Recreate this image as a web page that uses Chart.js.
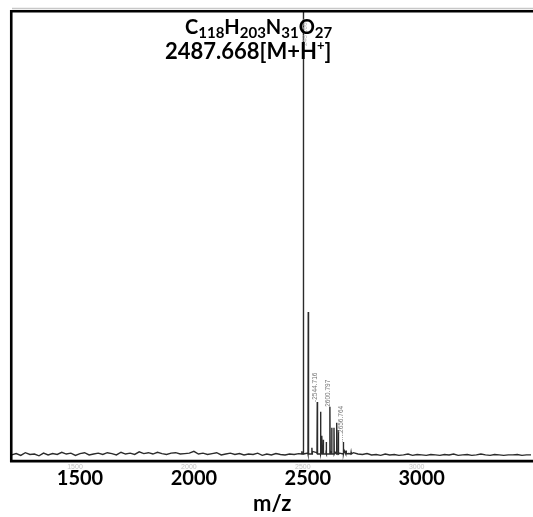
<!DOCTYPE html>
<html>
<head>
<meta charset="utf-8">
<script src="https://cdn.jsdelivr.net/npm/chart.js@4.4.1/dist/chart.umd.min.js"></script>
<style>
  html, body { margin: 0; padding: 0; background: #fff; }
  #wrap { width: 533px; height: 517px; }
</style>
</head>
<body>
<div id="wrap"><canvas id="ms" width="533" height="517"></canvas></div>
<script>
// axis
const tickValues = [1500, 2000, 2500, 3000];
const xMin = 1198.2, xMax = 3488.6;

// baseline noise, one reading every 20 m/z from 1200
const noiseStart = 1200, noiseStep = 20;
const noiseLevels = [
  0.4, 0.7, 0.3, 0.9, 0.5, 0.6, 0.2, 0.8, 0.4, 0.7,
  0.5, 1.0, 0.6, 0.8, 0.3, 0.7, 0.9, 0.4, 0.6, 0.8,
  0.5, 0.9, 0.7, 0.4, 1.0, 0.6, 0.8, 0.5, 1.1, 0.7,
  0.9, 0.6, 1.0, 0.7, 0.5, 0.8, 0.9, 0.6, 0.7, 0.8,
  1.2, 0.6, 0.8, 0.5, 0.7, 0.9, 0.4, 0.6, 0.8, 0.5,
  0.7, 0.4, 0.6, 0.5, 0.8, 0.3, 0.6, 0.4, 0.7, 0.5,
  0.4, 0.6, 0.5, 0.7, 1.0, 0.8, 1.2, 0.9, 1.3, 0.8,
  1.1, 1.0, 0.8, 1.4, 0.7, 0.9, 0.6, 0.5, 0.7, 0.4,
  0.5, 0.3, 0.6, 0.4, 0.5, 0.3, 0.4, 0.6, 0.3, 0.5,
  0.4, 0.3, 0.5, 0.4, 0.3, 0.5, 0.4, 0.6, 0.3, 0.4,
  0.5, 0.3, 0.4, 0.6, 0.4, 0.3, 0.5, 0.4, 0.3, 0.4,
  0.4, 0.5, 0.3, 0.4, 0.4
];

// peaks (m/z, relative intensity)
const peakMz        = [2474, 2481, 2502, 2518, 2541.5, 2556, 2562, 2568, 2581, 2597, 2605, 2615, 2627, 2634, 2656, 2668, 2690];
const peakIntensity = [1.2,  101,  32.5, 2.0,  12.3,   10.1, 4.7,  3.8,  3.3,  11.2, 6.5,  6.5,  7.6,  6.0,  3.3,  1.4,  1.0];

// peak annotations
const labelMz   = [2541.5, 2597, 2656];
const labelText = ['-2544.716', '2600.797', '.....2656.764'];
const mainLabel = '2487.668';

// formula text
const formulaParts = [['C', '118'], ['H', '203'], ['N', '31'], ['O', '27']];
const ionText = '2487.668[M+H';

const spectrum = [];
noiseLevels.forEach((v, i) => spectrum.push({ x: noiseStart + i * noiseStep, y: v }));
peakMz.forEach((m, i) => {
  spectrum.push({ x: m - 1.2, y: 0.6 }, { x: m, y: peakIntensity[i] }, { x: m + 1.2, y: 0.6 });
});
spectrum.sort((a, b) => a.x - b.x);

const framePlugin = {
  id: 'frame',
  afterDatasetsDraw(chart) {
    const ctx = chart.ctx;
    const a = chart.chartArea;
    const xs = chart.scales.x, ys = chart.scales.y;
    ctx.save();

    // faint original tick labels
    ctx.fillStyle = '#c4c4c4';
    ctx.font = '7px "Liberation Sans"';
    ctx.textAlign = 'center';
    ctx.textBaseline = 'middle';
    tickValues.forEach(v => ctx.fillText(String(v), xs.getPixelForValue(v) - 5, 467.5));

    // rotated peak labels
    ctx.font = '6.5px "Liberation Sans"';
    ctx.fillStyle = '#777';
    ctx.textAlign = 'left';
    labelMz.forEach((m, i) => {
      const k = peakMz.indexOf(m);
      const px = xs.getPixelForValue(m) - 1.8;
      const py = ys.getPixelForValue(peakIntensity[k]);
      ctx.save();
      ctx.translate(px, py);
      ctx.rotate(-Math.PI / 2);
      ctx.fillText(labelText[i], 0, 0);
      ctx.restore();
    });
    ctx.fillStyle = '#b8b8b8';
    ctx.save();
    ctx.translate(xs.getPixelForValue(2481) + 1.5, 46);
    ctx.rotate(-Math.PI / 2);
    ctx.fillText(mainLabel, 0, 0);
    ctx.restore();

    // frame
    ctx.strokeStyle = '#c8c8c8';
    ctx.lineWidth = 1.5;
    ctx.beginPath();
    ctx.moveTo(12, 8.6); ctx.lineTo(533, 8.6);
    ctx.stroke();
    ctx.strokeStyle = '#000';
    ctx.lineWidth = 2.6;
    ctx.beginPath();
    ctx.moveTo(533, a.top); ctx.lineTo(a.left, a.top);
    ctx.lineTo(a.left, a.bottom); ctx.lineTo(533, a.bottom);
    ctx.stroke();

    // formula
    ctx.fillStyle = '#000';
    ctx.textAlign = 'left';
    ctx.textBaseline = 'alphabetic';
    let x = 185;
    formulaParts.forEach(p => {
      ctx.font = 'bold 20px Lato';
      ctx.fillText(p[0], x, 34);
      x += ctx.measureText(p[0]).width;
      ctx.font = 'bold 15px Lato';
      ctx.fillText(p[1], x, 38);
      x += ctx.measureText(p[1]).width;
    });
    x = 165;
    ctx.font = 'bold 22px Lato';
    ctx.fillText(ionText, x, 59);
    x += ctx.measureText(ionText).width;
    ctx.font = 'bold 13px Lato';
    ctx.fillText('+', x, 50);
    x += ctx.measureText('+').width;
    ctx.font = 'bold 22px Lato';
    ctx.fillText(']', x, 59);
    ctx.restore();
  }
};

new Chart(document.getElementById('ms'), {
  type: 'line',
  data: {
    datasets: [{
      data: spectrum,
      borderColor: '#2b2b2b',
      borderWidth: 1.4,
      pointRadius: 0,
      tension: 0,
      fill: false
    }]
  },
  options: {
    responsive: false,
    animation: false,
    devicePixelRatio: 1,
    layout: { padding: { left: 11.25, top: 11.25, right: 0, bottom: 4.46 } },
    plugins: { legend: { display: false }, tooltip: { enabled: false } },
    scales: {
      x: {
        type: 'linear',
        min: xMin,
        max: xMax,
        grid: { display: false, drawTicks: false },
        border: { display: false },
        afterBuildTicks: s => { s.ticks = tickValues.map(v => ({ value: v })); },
        ticks: {
          padding: 5.55,
          color: '#000',
          maxRotation: 0,
          autoSkip: false,
          callback: v => String(v),
          font: { family: 'Lato', weight: 'bold', size: 20, lineHeight: 1.2 }
        },
        title: {
          display: true,
          text: 'm/z',
          color: '#000',
          font: { family: 'Lato', weight: 'bold', size: 22, lineHeight: 0.74 },
          padding: { top: 0, bottom: 0 }
        }
      },
      y: { display: false, min: -1, max: 100 }
    }
  },
  plugins: [framePlugin]
});
</script>
</body>
</html>
